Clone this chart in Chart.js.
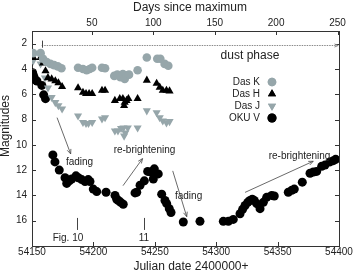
<!DOCTYPE html>
<html><head><meta charset="utf-8">
<script src="https://cdn.jsdelivr.net/npm/chart.js@4.4.1/dist/chart.umd.min.js"></script>
<style>html,body{margin:0;padding:0;background:#fff}</style>
</head><body>
<canvas id="c" width="355" height="277"></canvas>
<script>
const FONT = "'Liberation Sans', Arial, Helvetica, sans-serif";
const jdTicks = [54150, 54200, 54250, 54300, 54350, 54400];
const dayTicks = [50, 100, 150, 200, 250];
const magTicks = [2, 4, 6, 8, 10, 12, 14, 16];
const JD_MAX = 54148.8;

const dasK_jd  = [54151, 54157, 54159, 54162, 54165, 54168, 54171, 54174, 54187.5, 54191.5, 54194.5, 54197, 54199, 54207, 54209.5, 54217, 54219.5, 54222, 54224, 54225.5, 54227, 54229, 54236, 54243.5, 54252, 54254.5, 54258, 54261];
const dasK_mag = [2.75, 2.75, 3.2, 3.45, 3.6, 3.7, 3.8, 3.95, 3.9, 4.0, 4.1, 4.0, 3.9, 3.9, 3.95, 4.55, 4.45, 4.65, 4.4, 4.8, 4.5, 4.45, 4.1, 3.1, 3.2, 3.2, 3.6, 3.75];

const dasH_jd  = [54151, 54157, 54159, 54161, 54163, 54166, 54169, 54171.5, 54174.5, 54187.5, 54191.5, 54194, 54196.5, 54199, 54207, 54209.5, 54217.5, 54221.5, 54224, 54225.5, 54227, 54228.5, 54225, 54236, 54243.5, 54251.5, 54254, 54256.5, 54259.5, 54262];
const dasH_mag = [3.1, 3.1, 3.55, 4.15, 4.7, 4.8, 4.95, 5.1, 5.4, 5.5, 5.85, 5.95, 5.95, 5.95, 5.7, 5.7, 6.5, 6.35, 6.35, 6.65, 6.5, 6.35, 6.9, 6.35, 4.9, 5.15, 5.45, 5.7, 5.7, 5.75];

const dasJ_jd  = [54151, 54157, 54160.5, 54163, 54166, 54169, 54171.5, 54174.5, 54187.5, 54191.5, 54194, 54196, 54199, 54207, 54209.5, 54217.5, 54220, 54222.5, 54224.5, 54226, 54228, 54225, 54236, 54243.5, 54251.5, 54254, 54256.5, 54259.5, 54262];
const dasJ_mag = [3.35, 3.6, 4.7, 5.5, 6.25, 6.65, 6.9, 7.15, 7.7, 8.22, 8.3, 8.3, 8.22, 7.95, 7.85, 8.9, 8.9, 8.7, 8.65, 9.05, 8.65, 9.3, 8.65, 7.3, 7.45, 7.85, 8.1, 8.25, 8.15];

const okuV_jd  = [54150.5, 54151.5, 54152.5, 54154, 54158, 54159.5, 54161,
  54167, 54168.7, 54172.2, 54176.9, 54178.3, 54180.4, 54182.3, 54185.8, 54187.7, 54190.5, 54193.2, 54195.8, 54197.2, 54199.9, 54202.7, 54210.3, 54217.6, 54219, 54220.3, 54222.2, 54224.3,
  54233.9, 54235.3, 54238, 54241.5, 54244.2, 54246.9, 54249.6, 54252.8, 54248.8, 54255.6, 54258.3, 54259.7, 54261.8, 54263.2, 54273.2, 54286.8,
  54305.8, 54309.9, 54313.9, 54319.4, 54321.5, 54323.5, 54325.7, 54327.5, 54329.4, 54331, 54333, 54335.7, 54338.4, 54341.1, 54345.2, 54347.3, 54358.7, 54361.5, 54363.6, 54370.1, 54376.4, 54379.1, 54381.8, 54385.9, 54388.6, 54392.7, 54395.4, 54397.3];
const okuV_mag = [4.3, 4.6, 4.85, 4.95, 5.3, 6.05, 6.35,
  10.8, 11.35, 12.0, 12.6, 13.05, 12.85, 12.7, 12.45, 12.6, 12.75, 12.9, 12.75, 12.9, 13.5, 13.7, 13.75, 14.0, 14.3, 14.4, 14.55, 14.7,
  13.8, 13.75, 13.2, 12.85, 12.1, 12.15, 11.9, 12.3, 12.7, 13.9, 14.4, 14.65, 15.05, 15.35, 16.1, 16.05,
  16.05, 16.05, 15.9, 15.45, 15.1, 14.8, 14.55, 14.4, 14.3, 14.4, 14.65, 15.05, 14.55, 14.15, 14.0, 14.05, 13.75, 13.6, 13.5, 12.95, 12.25, 12.15, 12.1, 11.7, 11.6, 11.35, 11.25, 11.15];

const GRAY = '#96a6aa';
const pts = (xs, ys) => xs.map((v, i) => ({x: v, y: ys[i]}));

const series = [
  {label: 'Das K', data: pts(dasK_jd, dasK_mag), pointStyle: 'circle', radius: 4.3, color: GRAY, rotation: 0},
  {label: 'Das H', data: pts(dasH_jd, dasH_mag), pointStyle: 'triangle', radius: 4.7, color: '#000', rotation: 0},
  {label: 'Das J', data: pts(dasJ_jd, dasJ_mag), pointStyle: 'triangle', radius: 4.7, color: GRAY, rotation: 180},
  {label: 'OKU V', data: pts(okuV_jd, okuV_mag), pointStyle: 'circle', radius: 4.5, color: '#000', rotation: 0}
];

const arrows = [
  [54170.4, 7.85, 54181.5, 10.72],
  [54224.1, 13.23, 54240, 11.09],
  [54264.6, 12.06, 54276, 15.68],
  [54323.5, 13.76, 54379, 11.3]
];
const notes = [
  ['fading', 54188.7, 11.4], ['re-brightening', 54241.6, 10.46],
  ['fading', 54277.5, 14.1], ['re-brightening', 54367.9, 10.9],
  ['Fig. 10', 54179.3, 17.36], ['11', 54241.2, 17.36]
];
const figMarks = [[54186.4, 15.78, 16.73], [54241.2, 15.78, 16.73]];

function arrowHead(ctx, x1, y1, x2, y2, len) {
  const ang = Math.atan2(y2 - y1, x2 - x1);
  ctx.beginPath();
  ctx.moveTo(x2 - len * Math.cos(ang - 0.4), y2 - len * Math.sin(ang - 0.4));
  ctx.lineTo(x2, y2);
  ctx.lineTo(x2 - len * Math.cos(ang + 0.4), y2 - len * Math.sin(ang + 0.4));
  ctx.stroke();
}

const deco = {
  id: 'deco',
  afterDraw(chart) {
    const {ctx, chartArea: a, scales} = chart;
    const X = v => scales.x.getPixelForValue(v), Y = v => scales.y.getPixelForValue(v);
    const XT = v => scales.xTop.getPixelForValue(v);
    ctx.save();
    // inward ticks on all four sides
    ctx.strokeStyle = '#333'; ctx.lineWidth = 1;
    ctx.beginPath();
    magTicks.forEach(m => { const py = Math.round(Y(m)) + 0.5; ctx.moveTo(a.left, py); ctx.lineTo(a.left + 4, py); ctx.moveTo(a.right, py); ctx.lineTo(a.right - 4, py); });
    jdTicks.forEach(j => { const px = Math.round(X(j)) + 0.5; ctx.moveTo(px, a.bottom); ctx.lineTo(px, a.bottom - 4); });
    dayTicks.forEach(d => { const px = Math.round(XT(d)) + 0.5; ctx.moveTo(px, a.top); ctx.lineTo(px, a.top + 4); });
    ctx.stroke();

    // horizontal-axis tick labels (positions from the scales)
    ctx.fillStyle = '#222';
    ctx.font = '10px ' + FONT;
    ctx.textAlign = 'center'; ctx.textBaseline = 'middle';
    jdTicks.forEach(j => ctx.fillText(String(j), X(j), a.bottom + 6));
    dayTicks.forEach(d => ctx.fillText(String(d), XT(d), a.top - 8));

    // dust phase dotted line
    const dy = Math.round(Y(2.08)) + 0.5;
    ctx.strokeStyle = '#8a8a8a';
    ctx.setLineDash([1.5, 1]);
    ctx.beginPath(); ctx.moveTo(X(54157.9), dy); ctx.lineTo(X(54399.3), dy); ctx.stroke();
    ctx.setLineDash([]);
    arrowHead(ctx, X(54390), dy, X(54399.3), dy, 4);
    ctx.strokeStyle = '#444';
    ctx.beginPath(); ctx.moveTo(Math.round(X(54157.9)) + 0.5, Y(1.76)); ctx.lineTo(Math.round(X(54157.9)) + 0.5, Y(2.32)); ctx.stroke();

    // arrows
    ctx.strokeStyle = '#444'; ctx.lineWidth = 0.8;
    arrows.forEach(([x1, y1, x2, y2]) => {
      const p1 = [X(x1), Y(y1)], p2 = [X(x2), Y(y2)];
      ctx.beginPath(); ctx.moveTo(p1[0], p1[1]); ctx.lineTo(p2[0], p2[1]); ctx.stroke();
      arrowHead(ctx, p1[0], p1[1], p2[0], p2[1], 5);
    });
    ctx.lineWidth = 1;
    figMarks.forEach(([jx, m1, m2]) => {
      const px = Math.round(X(jx)) + 0.5;
      ctx.beginPath(); ctx.moveTo(px, Y(m1)); ctx.lineTo(px, Y(m2)); ctx.stroke();
    });

    // annotation texts
    ctx.fillStyle = '#222';
    ctx.textAlign = 'center'; ctx.textBaseline = 'middle';
    ctx.font = '10px ' + FONT;
    notes.forEach(([t, jx, m]) => ctx.fillText(t, X(jx), Y(m)));
    ctx.font = '12px ' + FONT;
    ctx.fillText('dust phase', X(54327.5), Y(2.95));

    // legend (text left of marker)
    ctx.font = '10px ' + FONT;
    ctx.textAlign = 'right';
    series.forEach((s, i) => {
      const ly = a.top + 51 + i * 12;
      ctx.fillStyle = '#222';
      ctx.fillText(s.label, a.right - 79, ly);
      ctx.fillStyle = s.color;
      Chart.helpers.drawPoint(ctx, {pointStyle: s.pointStyle, radius: s.radius, rotation: s.rotation, borderWidth: 0}, a.right - 67, ly);
      ctx.fill();
    });

    // axis titles
    ctx.fillStyle = '#222';
    ctx.font = '12px ' + FONT;
    ctx.textAlign = 'center';
    ctx.fillText('Days since maximum', a.left + 158, 8);
    ctx.fillText('Julian date 2400000+', a.left + 159, 267);
    ctx.save();
    ctx.translate(6, 126); ctx.rotate(-Math.PI / 2);
    ctx.fillText('Magnitudes', 0, 0);
    ctx.restore();
    ctx.restore();
  }
};

Chart.defaults.font.family = FONT;
Chart.defaults.color = '#222';

const axisBase = {grid: {display: false, drawTicks: false}, border: {display: true, color: '#333', width: 1}};

new Chart(document.getElementById('c'), {
  type: 'scatter',
  data: {
    datasets: series.map(s => ({
      label: s.label, data: s.data, xAxisID: 'x', yAxisID: 'y',
      pointStyle: s.pointStyle, pointRadius: s.radius, pointRotation: s.rotation,
      pointBackgroundColor: s.color, pointBorderWidth: 0, showLine: false
    }))
  },
  options: {
    responsive: false, animation: false, events: [],
    layout: {padding: 0},
    plugins: {legend: {display: false}, tooltip: {enabled: false}},
    scales: {
      x: Object.assign({}, axisBase, {
        type: 'linear', position: 'bottom', min: 54150, max: 54400,
        afterBuildTicks: s => { s.ticks = jdTicks.map(v => ({value: v})); },
        afterFit: s => { s.height = 31; },
        ticks: {display: false}
      }),
      xTop: Object.assign({}, axisBase, {
        type: 'linear', position: 'top', min: 54150 - JD_MAX, max: 54400 - JD_MAX,
        afterBuildTicks: s => { s.ticks = dayTicks.map(v => ({value: v})); },
        afterFit: s => { s.height = 31; },
        ticks: {display: false}
      }),
      y: Object.assign({}, axisBase, {
        type: 'linear', position: 'left', reverse: true, min: 1, max: 18,
        afterBuildTicks: s => { s.ticks = magTicks.map(v => ({value: v})); },
        afterFit: s => { s.width = 32; },
        ticks: {font: {size: 10}, padding: 5, autoSkip: false, callback: v => String(v)}
      }),
      yR: Object.assign({}, axisBase, {
        type: 'linear', position: 'right', reverse: true, min: 1, max: 18,
        afterFit: s => { s.width = 16; },
        ticks: {display: false}
      })
    }
  },
  plugins: [deco]
});
</script>
</body></html>
